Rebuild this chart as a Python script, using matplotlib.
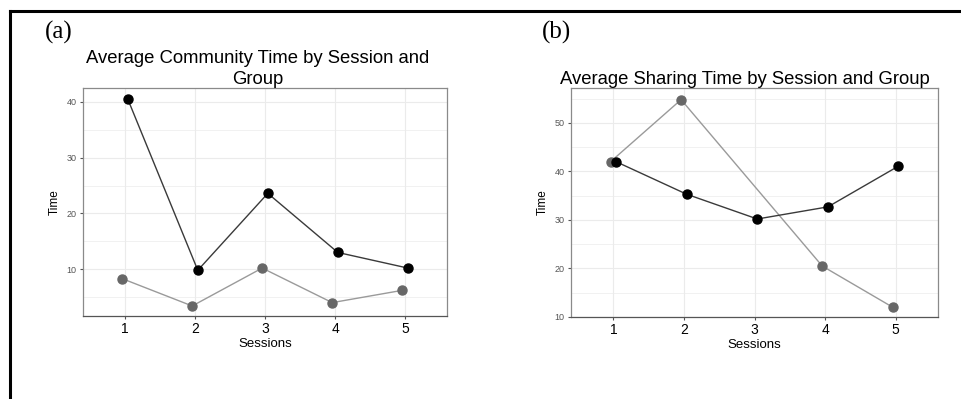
import numpy as np
import matplotlib.pyplot as plt
from matplotlib.lines import Line2D
from matplotlib.ticker import MultipleLocator

plt.rcParams["font.family"] = ["Liberation Sans", "DejaVu Sans"]

# session numbers shared by both panels
sessions = np.array([1, 2, 3, 4, 5])

# (a) community time
community_dark = np.array([40.5, 9.8, 23.6, 13.0, 10.2])
community_grey = np.array([8.3, 3.4, 10.2, 4.0, 6.2])

# (b) sharing time (grey group has no value for session 3)
sharing_dark = np.array([42.0, 35.3, 30.2, 32.7, 41.1])
sharing_grey = np.array([42.0, 54.8, np.nan, 20.5, 12.0])

DODGE = 0.04
DARK_LINE = "#3a3a3a"
DARK_POINT = "black"
GREY_LINE = "#9a9a9a"
GREY_POINT = "#676767"
GRID = "#ebebeb"


def style_axis(ax, title, title_x, ylim, ymajor, yminor):
    ax.set_title(title, fontsize=13.3, pad=2, color="black",
                 linespacing=1.3, x=title_x)
    ax.set_xlim(0.4, 5.6)
    ax.set_ylim(*ylim)
    ax.set_xticks(sessions)
    ax.yaxis.set_major_locator(MultipleLocator(ymajor))
    ax.yaxis.set_minor_locator(MultipleLocator(yminor))
    ax.grid(True, which="major", color=GRID, linewidth=0.8)
    ax.grid(True, which="minor", axis="y", color=GRID, linewidth=0.5)
    ax.set_axisbelow(True)
    for side in ax.spines.values():
        side.set_color("#8a8a8a")
        side.set_linewidth(0.9)
    ax.spines["bottom"].set_color("#555555")
    ax.tick_params(axis="x", labelsize=10, length=2.5, color="#555555",
                   labelcolor="black", pad=2)
    ax.tick_params(axis="y", labelsize=6.5, length=2.5, color="#555555",
                   labelcolor="#555555", pad=2)
    ax.tick_params(which="minor", length=0)
    ax.set_xlabel("Sessions", fontsize=9.5, labelpad=1)
    ax.set_ylabel("Time", fontsize=8.5, labelpad=4)


def draw_series(ax, y, offset, line_color, point_color):
    ok = ~np.isnan(y)
    ax.plot(sessions[ok] + offset, y[ok], color=line_color, linewidth=1.0,
            zorder=2)
    ax.plot(sessions[ok] + offset, y[ok], "o", color=point_color,
            markersize=6.5, zorder=3)


fig = plt.figure(figsize=(9.61, 3.99), dpi=100)

ax_a = fig.add_axes([83 / 961, 1 - 316 / 399, 364 / 961, 228 / 399])
ax_b = fig.add_axes([571 / 961, 1 - 317 / 399, 367 / 961, 229 / 399])

draw_series(ax_a, community_grey, -DODGE, GREY_LINE, GREY_POINT)
draw_series(ax_a, community_dark, DODGE, DARK_LINE, DARK_POINT)
style_axis(ax_a, "Average Community Time by Session and\nGroup", 0.48,
           (1.6, 42.5), 10, 5)

draw_series(ax_b, sharing_grey, -DODGE, GREY_LINE, GREY_POINT)
draw_series(ax_b, sharing_dark, DODGE, DARK_LINE, DARK_POINT)
style_axis(ax_b, "Average Sharing Time by Session and Group", 0.474,
           (10, 57.2), 10, 5)

# panel letters
fig.text(45 / 961, 1 - 39 / 399, "(a)", family="Liberation Serif",
         fontsize=18)
fig.text(542 / 961, 1 - 39 / 399, "(b)", family="Liberation Serif",
         fontsize=18)

# black frame round the figure (top and left edges)
fig.add_artist(Line2D([9.5 / 961, 1.0], [1 - 11 / 399, 1 - 11 / 399],
                      transform=fig.transFigure, color="black", linewidth=2.2))
fig.add_artist(Line2D([9.5 / 961, 9.5 / 961], [0.0, 1 - 11 / 399],
                      transform=fig.transFigure, color="black", linewidth=2.2))

fig.savefig("out.png", dpi=100)
